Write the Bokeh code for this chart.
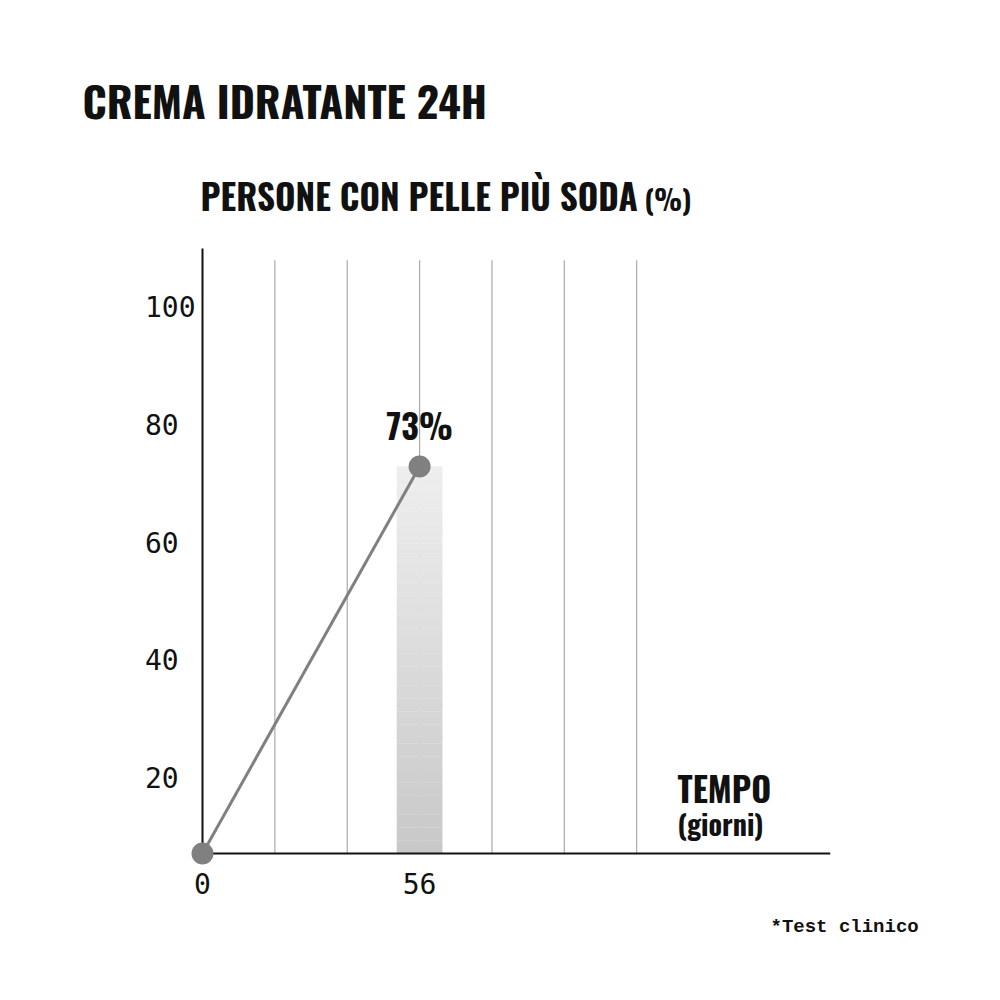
from bokeh.plotting import figure
from bokeh.models import FixedTicker, Label, Range1d, Title
from bokeh.embed import file_html
from bokeh.resources import INLINE

# ---- data ----
days = [0, 56]
values = [7.3, 73]          # first point sits on the baseline
bar_day = [56]
bar_value = [73]
point_labels = ["73%"]
x_ticks = [0, 56]
y_ticks = [20, 40, 60, 80, 100]
grid_days = [56 / 3, 112 / 3, 56, 224 / 3, 280 / 3, 112]

title_text = "CREMA IDRATANTE 24H"
subtitle_text = "PERSONE CON PELLE PIÙ SODA"
subtitle_unit = "(%)"
xlabel_main = "TEMPO"
xlabel_sub = "(giorni)"
footnote = "*Test clinico"

# ---- layout constants (page px) ----
W = 972
Y_START, Y_END = 7.3, 110
X_END = 162
AX_LEFT, AX_TOP, AX_BOTTOM, AX_RIGHT = 202, 248, 853, 830
FRAME_TOP = 170
PAD_L, PAD_B = 12, 13
XS = (AX_RIGHT - AX_LEFT) / X_END
YS = (AX_BOTTOM - AX_TOP) / (Y_END - Y_START)
FRAME_LEFT = AX_LEFT - PAD_L
FW = AX_RIGHT - FRAME_LEFT
FH = AX_BOTTOM + PAD_B - FRAME_TOP
BOTTOM = 115
H = FRAME_TOP + FH + BOTTOM

COND = "Oswald"
MONO = "DejaVu Sans Mono"
INK = "#111111"


def px(sx):
    return (sx - AX_LEFT) / XS


def py(sy):
    return Y_START + (AX_BOTTOM - sy) / YS


p = figure(width=W, height=H, frame_width=FW, frame_height=FH,
           x_range=Range1d(px(FRAME_LEFT), X_END),
           y_range=Range1d(py(AX_BOTTOM + PAD_B), py(FRAME_TOP)),
           min_border_left=FRAME_LEFT, min_border_top=FRAME_TOP,
           min_border_right=W - AX_RIGHT, min_border_bottom=BOTTOM,
           output_backend="svg", toolbar_location=None)
p.outline_line_color = None
p.xgrid.visible = False
p.ygrid.visible = False

# main title (outside the frame, so as a Title)
p.title.text = title_text
p.title.text_font = COND
p.title.text_font_style = "bold"
p.title.text_font_size = "43px"
p.title.text_color = INK
p.title.align = "left"
p.title.offset = 82 - FRAME_LEFT
p.title.standoff = 79

# axes
p.xaxis.ticker = FixedTicker(ticks=x_ticks)
p.yaxis.ticker = FixedTicker(ticks=y_ticks)
width_max = max(len(str(t)) for t in y_ticks)
p.yaxis.major_label_overrides = {t: str(t) + "\u00a0" * (width_max - len(str(t)))
                                 for t in y_ticks}
for ax in (p.xaxis[0], p.yaxis[0]):
    ax.axis_line_color = None
    ax.major_tick_line_color = None
    ax.minor_tick_line_color = None
    ax.major_tick_out = 0
    ax.major_tick_in = 0
    ax.minor_tick_out = 0
    ax.major_label_text_font = MONO
    ax.major_label_text_font_size = "28px"
    ax.major_label_text_color = INK
p.xaxis.major_label_standoff = 6
p.yaxis.major_label_standoff = -5

# gridlines
p.segment(x0=grid_days, x1=grid_days, y0=[Y_START] * len(grid_days),
          y1=[108] * len(grid_days), line_color="#aaaaaa", line_width=1.2)

# gradient bar
N = 60
half_w = 5.9
top_c = (0xEE, 0xEE, 0xEE)
bot_c = (0xC8, 0xC8, 0xC8)
for bd, bv in zip(bar_day, bar_value):
    edges = [Y_START + (bv - Y_START) * i / N for i in range(N + 1)]
    cols = []
    for i in range(N):
        t = (i + 0.5) / N
        c = tuple(int(round(bot_c[k] + (top_c[k] - bot_c[k]) * t)) for k in range(3))
        cols.append("#%02x%02x%02x" % c)
    p.quad(left=[bd - half_w] * N, right=[bd + half_w] * N,
           bottom=edges[:-1], top=[e + 0.05 for e in edges[1:]],
           fill_color=cols, line_color=None)

# axis lines (bounded to the data area)
p.segment(x0=[0, 0], y0=[Y_START, Y_START], x1=[0, X_END], y1=[Y_END, Y_START],
          line_color=INK, line_width=2)

# line + points
p.line(days, values, line_color="#808080", line_width=3)
p.scatter(days, values, size=22, fill_color="#808080", line_color=None)

# value label
for d, v, t in zip(bar_day, bar_value, point_labels):
    p.add_layout(Label(x=d, y=v, text=t, text_font=COND, text_font_style="bold",
                       text_font_size="34px", text_align="center",
                       text_baseline="alphabetic", y_offset=42, text_color=INK))


def text_at(sx, baseline, txt, size):
    p.add_layout(Label(x=px(sx), y=py(baseline - 0.5 * size), text=txt, text_font=COND,
                       text_font_style="bold", text_font_size=f"{size}px",
                       text_baseline="alphabetic", text_color=INK))


text_at(200, 212, subtitle_text, 35)
text_at(644, 212, subtitle_unit, 28)
text_at(677, 804, xlabel_main, 34)
text_at(677, 837, xlabel_sub, 28)

# footnote (below the axis, so as a Title)
foot = Title(text=footnote, align="left", offset=770 - FRAME_LEFT,
             text_font="Liberation Mono", text_font_style="bold",
             text_font_size="19px", text_color=INK, vertical_align="top", standoff=39)
p.add_layout(foot, "below")

open("out.html", "w").write(file_html(p, INLINE))
